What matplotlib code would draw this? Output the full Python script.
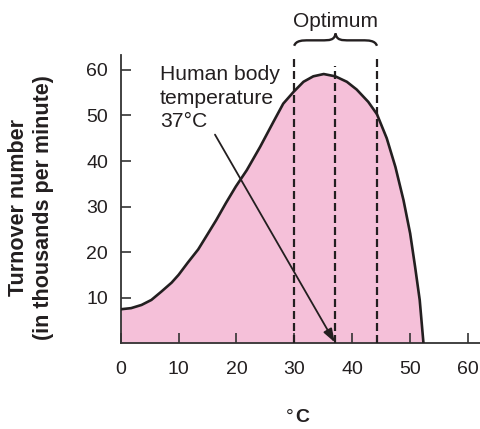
import matplotlib.pyplot as plt
from matplotlib.path import Path
from matplotlib.patches import PathPatch

# values
temp = [0, 1.8, 3.6, 5.3, 7.0, 8.8, 10.0, 11.6, 13.4, 15.1, 16.5, 18.2, 19.9,
        21.8, 24.1, 26.4, 28.1, 29.9, 31.6, 33.3, 35.1, 37.1, 39.1, 40.8,
        42.8, 44.3, 46.0, 47.5, 48.9, 50.05, 50.9, 51.7, 52.2, 52.35]
rate = [7.45, 7.7, 8.4, 9.5, 11.3, 13.3, 15.0, 17.7, 20.6, 24.1, 27.0, 30.8, 34.4,
        38.0, 43.1, 48.6, 52.6, 55.2, 57.4, 58.6, 59.1, 58.6, 57.4, 55.7,
        53.0, 50.3, 45.0, 38.7, 31.4, 24.1, 16.8, 9.5, 2.2, 0]
xticks = [0, 10, 20, 30, 40, 50, 60]
yticks = [10, 20, 30, 40, 50, 60]
optimum_lo, optimum_hi = 30, 44.3
body_temp = 37
note_lines = ['Human body', 'temperature', '37°C']

ink = '#231F20'
plt.rcParams['font.family'] = ['Liberation Sans', 'DejaVu Sans']

fig = plt.figure(figsize=(4.81, 4.29), dpi=100)
ax = fig.add_axes([0.251, 0.2, 0.749, 0.672])

ax.fill_between(temp, rate, 0, color='#F5C0D9', lw=0, zorder=1)
ax.plot(temp, rate, color=ink, lw=1.9, zorder=3, solid_capstyle='butt',
        solid_joinstyle='round')

# optimum range and body temperature
for x, top in [(optimum_lo, 63.3), (optimum_hi, 63.3), (body_temp, 60.8)]:
    ax.plot([x, x], [0, top], color=ink, lw=1.6, ls=(0, (3.6, 1.8)), clip_on=False, zorder=4)

# brace over the optimum range
x0, x1 = optimum_lo, optimum_hi
xm = (x0 + x1) / 2
yb, yh, yt = 65.3, 66.5, 68.0
verts = [(x0, yb), (x0 + 0.3, yh), (x0 + 1.5, yh), (x0 + 2.5, yh),
         (xm - 2.5, yh),
         (xm - 1.0, yh), (xm - 0.2, yh), (xm, yt),
         (xm + 0.2, yh), (xm + 1.0, yh), (xm + 2.5, yh),
         (x1 - 2.5, yh),
         (x1 - 1.5, yh), (x1 - 0.3, yh), (x1, yb)]
codes = [Path.MOVETO, Path.CURVE4, Path.CURVE4, Path.CURVE4,
         Path.LINETO,
         Path.CURVE4, Path.CURVE4, Path.CURVE4,
         Path.CURVE4, Path.CURVE4, Path.CURVE4,
         Path.LINETO,
         Path.CURVE4, Path.CURVE4, Path.CURVE4]
ax.add_patch(PathPatch(Path(verts, codes), fill=False, ec=ink, lw=1.7, clip_on=False))
ax.text(xm, 69.4, 'Optimum', ha='center', va='baseline', fontsize=15, color=ink)

# one text per line so each baseline sits where the reference has it
for line, yb_line in zip(note_lines, [57.7, 52.6, 47.4]):
    ax.text(6.8, yb_line, line, ha='left', va='baseline', fontsize=15.2, color=ink)
ax.annotate('', xy=(body_temp, 0.2), xytext=(16.3, 45.8),
            arrowprops=dict(arrowstyle='-|>,head_length=0.8,head_width=0.28',
                            color=ink, lw=1.3, shrinkA=0, shrinkB=0), zorder=5)

ax.set_xlim(0, 62.3)
ax.set_ylim(0, 63.3)
ax.set_xticks(xticks)
ax.set_yticks(yticks)
for s in ['top', 'right']:
    ax.spines[s].set_visible(False)
for s in ['left', 'bottom']:
    ax.spines[s].set_color('#333333')
    ax.spines[s].set_linewidth(1.3)
ax.tick_params(direction='in', length=7, width=1.2, color='#333333',
               labelsize=14, labelcolor=ink)
ax.tick_params(axis='x', pad=13)
ax.tick_params(axis='y', pad=9)

fig.text(31.5 / 481, 1 - 208 / 429, 'Turnover number\n(in thousands per minute)',
         rotation=90, ha='center', va='center', fontsize=15.5, fontweight='bold',
         color=ink, linespacing=1.25)
fig.text(0.611, 0.016, '°', ha='right', va='baseline', fontsize=14, color=ink)
fig.text(0.613, 0.016, 'C', ha='left', va='baseline', fontsize=14,
         fontweight='bold', color=ink)

fig.savefig('out.png', dpi=100)
